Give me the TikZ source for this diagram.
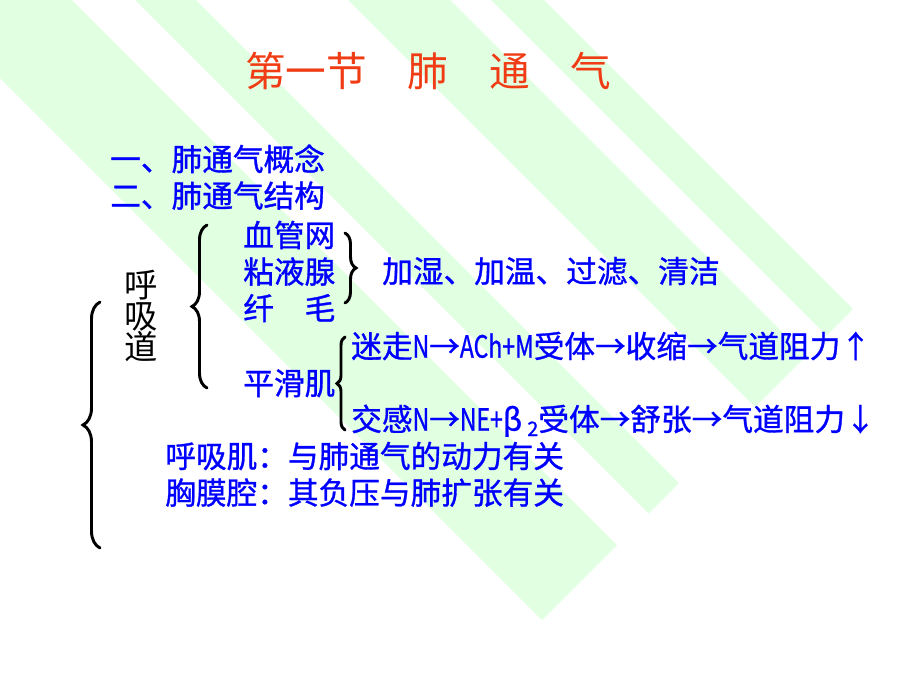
\documentclass[tikz,border=0pt]{standalone}
\usepackage{fontspec}
\setmainfont{Noto Sans CJK SC}
\newfontfamily\bodyfont{Noto Sans CJK SC}[RawFeature={embolden=1}]
\usepackage{graphicx}
\usepackage{tikz}
\usetikzlibrary{positioning, decorations.pathreplacing}
\definecolor{stripe}{RGB}{225,255,225}
\definecolor{titlered}{RGB}{240,60,20}
\newcommand{\narrow}[1]{\scalebox{0.75}[1]{#1}}
\newcommand{\lowtwo}{\raisebox{-4pt}{\fontsize{15}{15}\selectfont 2}}
\tikzset{band/.style = {fill=stripe, draw=none}}
\tikzset{heading/.style = {text=titlered, inner sep=0pt, font=\fontsize{30.5}{36}\selectfont}}
\tikzset{body/.style = {text=blue, inner sep=0pt, anchor=west, font=\bodyfont\fontsize{23}{28}\selectfont, text height=19.5pt, text depth=3.5pt}}
\tikzset{side/.style = {text=black, inner sep=0pt, align=center, font=\fontsize{25}{23.3}\selectfont}}
\tikzset{curly/.style = {decorate, decoration={brace, amplitude=#1}, line width=2.2pt, line cap=round}}

\begin{document}
\begin{tikzpicture}[x=0.75pt, y=-0.75pt, node distance=4pt]
  \useasboundingbox (0,0) rectangle (920,690);
  \begin{scope}
    \clip (0,0) rectangle (920,690);
    \foreach \a/\b in {-78/72, 135/196, 348/450, 491/544}
      \fill [band] (\a-300,-300) -- (\b-300,-300) -- ({(1162+\b)/2},{(1162-\b)/2}) -- ({(1162+\a)/2},{(1162-\a)/2}) -- cycle;
  \end{scope}

  \node [heading] (title) at (428,71) {第一节　肺　通　气};

  \node [body] (concept) at (110,160) {一、肺通气概念};
  \node [body, below=of concept.south west, anchor=north west] (structure) {二、肺通气结构};

  \node [side] (airway) at (141,316) {呼\\吸\\道};

  \node [body] (vessel) at (243,236) {血管网};
  \node [body, below=of vessel.south west, anchor=north west] (mucus) {粘液腺};
  \node [body, below=of mucus.south west, anchor=north west] (cilia) {纤　毛};
  \node [body] (effect) at (382,272) {加湿、加温、过滤、清洁};

  \node [body] (smooth) at (243,384) {平滑肌};
  \node [body] (vagus) at (351,347) {迷走\narrow{N}→\narrow{ACh+M}受体→收缩→气道阻力↑};
  \node [body] (sympa) at (351,420) {交感\narrow{N}→\narrow{NE+}β\,\lowtwo 受体→舒张→气道阻力↓};

  \node [body] (muscle) at (165,457) {呼吸肌：与肺通气的动力有关};
  \node [body, below=of muscle.south west, anchor=north west] (pleura) {胸膜腔：其负压与肺扩张有关};

  \coordinate (bigtop) at (100,302);
  \coordinate (bigbot) at (100,548);
  \coordinate (midtop) at (207,225);
  \coordinate (midbot) at (207,388);
  \coordinate (rtop) at (345,233);
  \coordinate (rbot) at (345,303);
  \coordinate (smtop) at (345,337);
  \coordinate (smbot) at (345,430);

  \draw [curly=12.75pt] (bigbot) -- (bigtop);
  \draw [curly=11.25pt] (midbot) -- (midtop);
  \draw [curly=8.25pt] (rtop) -- (rbot);
  \draw [curly=6pt] (smbot) -- (smtop);
\end{tikzpicture}
\end{document}
